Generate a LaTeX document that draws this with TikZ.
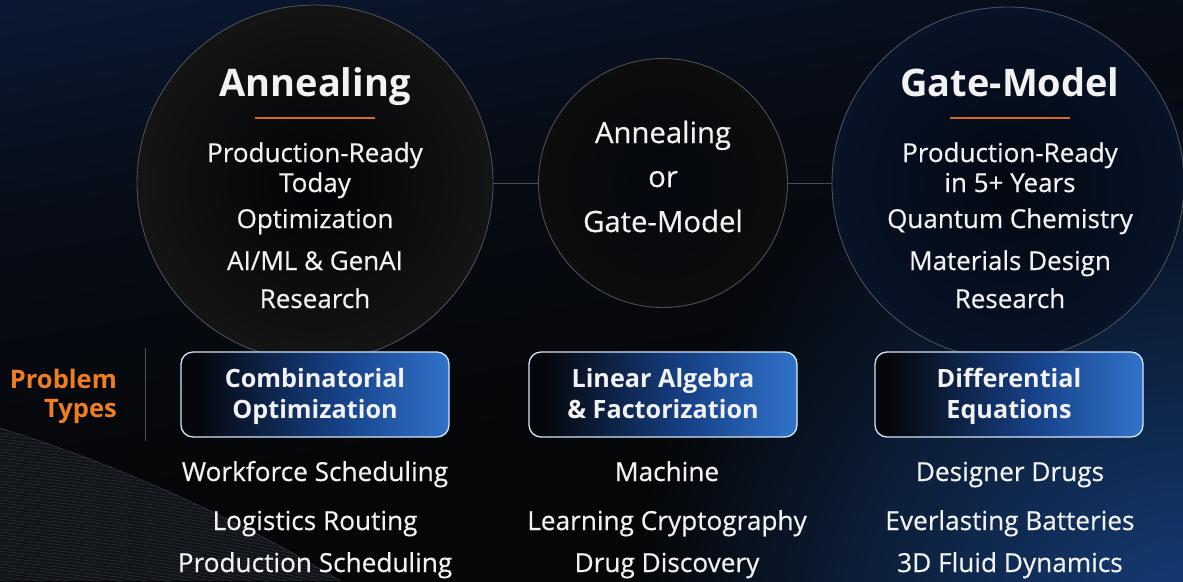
\documentclass[tikz,border=0pt]{standalone}
\usepackage{fontspec}
\setmainfont{Open Sans}
\newfontfamily\semifont{Open Sans}[FakeBold=0.45]
\usetikzlibrary{fadings}
\definecolor{bgL}{HTML}{050607}
\definecolor{bgM}{HTML}{070C16}
\definecolor{bgN}{HTML}{0B1D3D}
\definecolor{bgR}{HTML}{0D2C5C}
\definecolor{glowc}{HTML}{1C52A2}
\definecolor{ringc}{HTML}{4A5058}
\definecolor{orangeT}{HTML}{EF7D22}
\definecolor{orangeL}{HTML}{D8691E}
\definecolor{boxblue}{HTML}{3D8BEA}
\definecolor{boxmid}{HTML}{174289}
\definecolor{boxdark}{HTML}{05070C}
\definecolor{txt}{HTML}{F2F2F2}
\definecolor{meshc}{HTML}{101318}
\definecolor{meshl}{HTML}{2C3038}
\pgfdeclarehorizontalshading{bgshade}{100bp}{color(0bp)=(bgL); color(40bp)=(bgL); color(62bp)=(bgM); color(85bp)=(bgN); color(100bp)=(bgR)}
\pgfdeclarehorizontalshading{boxshade}{100bp}{color(0bp)=(boxdark); color(28bp)=(boxdark); color(55bp)=(boxmid); color(85bp)=(boxblue); color(100bp)=(boxblue)}
\tikzfading[name=glowfade, inner color=transparent!25, outer color=transparent!100]
\tikzset{
  bigcirc/.style={circle, draw=ringc, line width=0.9pt, inner sep=0pt},
  link/.style={draw=ringc, line width=0.9pt},
  ttl/.style={text=txt, font=\bfseries\fontsize{38}{40}\selectfont, anchor=base, inner sep=0pt},
  body/.style={text=txt, font=\semifont\fontsize{26}{28}\selectfont, anchor=base, inner sep=0pt},
  midtxt/.style={text=txt, font=\semifont\fontsize{29.3}{30}\selectfont, anchor=base, inner sep=0pt},
  ptype/.style={rounded corners=12pt, draw=white!78!boxblue, line width=1.3pt, shading=boxshade, minimum width=268pt, minimum height=85pt, inner sep=0pt},
  ptxt/.style={text=txt, font=\bfseries\fontsize{25.2}{30}\selectfont, anchor=base, inner sep=0pt},
  lbl/.style={text=orangeT, font=\bfseries\fontsize{25.5}{30}\selectfont, anchor=base east, inner sep=0pt},
  uline/.style={draw=orangeL, line width=1.8pt},
  item/.style={text=txt, font=\semifont\fontsize{26.2}{28}\selectfont, anchor=base, inner sep=0pt}
}
\begin{document}
\begin{tikzpicture}[x=1pt,y=-1pt]
\useasboundingbox (0,0) rectangle (1183,581);
% background
\shade[shading=bgshade, shading angle=100] (0,0) rectangle (1183,581);
\begin{scope}
\clip (0,0) rectangle (1183,581);
\fill[glowc, path fading=glowfade] (1183,640) circle (560);
\end{scope}
% mesh decoration bottom-left
\begin{scope}
\clip (0,428) .. controls (120,465) and (250,525) .. (340,581) -- (0,581) -- cycle;
\fill[meshc] (0,420) rectangle (340,581);
\foreach \i in {0,...,60} {
  \draw[meshl, line width=0.5pt] (0,{420+\i*3.2}) .. controls (120,{432+\i*3.2}) and (220,{445+\i*3.2}) .. (340,{470+\i*3.2});
}
\end{scope}
\draw[gray, line width=0.6pt, opacity=0.35] (0,428) .. controls (120,465) and (250,525) .. (340,581);
% circles
\node[bigcirc, minimum size=356pt, inner color=bgN!10!black, outer color=black!92!white] (cA) at (315,183) {};
\node[bigcirc, minimum size=249pt, inner color=bgN!25!black, outer color=black!95!white] (cM) at (663,183) {};
\node[bigcirc, minimum size=352pt, inner color=bgN!30!black, outer color=bgN!65!black] (cG) at (1008,183) {};
\draw[link] (cA.east) -- (cM.west);
\draw[link] (cM.east) -- (cG.west);
% left circle text
\node[ttl] (tA) at (315,96) {Annealing};
\coordinate (uA1) at (255,118); \coordinate (uA2) at (375,118);
\draw[uline] (uA1) -- (uA2);
\node[body] (a1) at (315,162) {Production-Ready};
\node[body] (a2) at (315,192) {Today};
\node[body] (a3) at (315,228) {Optimization};
\node[body] (a4) at (315,270) {AI/ML \& GenAI};
\node[body] (a5) at (315,308) {Research};
% middle circle text
\node[midtxt] (m1) at (663,143) {Annealing};
\node[midtxt] (m2) at (663,187) {or};
\node[midtxt] (m3) at (663,232) {Gate-Model};
% right circle text
\node[ttl] (tG) at (1010,96) {Gate-Model};
\coordinate (uG1) at (950,118); \coordinate (uG2) at (1070,118);
\draw[uline] (uG1) -- (uG2);
\node[body] (g1) at (1010,162) {Production-Ready};
\node[body] (g2) at (1010,192) {in 5+ Years};
\node[body] (g3) at (1010,228) {Quantum Chemistry};
\node[body] (g4) at (1010,270) {Materials Design};
\node[body] (g5) at (1010,308) {Research};
% problem types
\node[lbl] (pt1) at (117,388) {Problem};
\node[lbl] (pt2) at (117,417) {Types};
\coordinate (sep1) at (145,348); \coordinate (sep2) at (145,441);
\draw[ringc, line width=1pt] (sep1) -- (sep2);
\node[ptype] (b1) at (315,394.5) {};
\node[ptype] (b2) at (663,394.5) {};
\node[ptype] (b3) at (1009,394.5) {};
\node[ptxt] (b1a) at (315,387) {Combinatorial};
\node[ptxt] (b1b) at (315,418) {Optimization};
\node[ptxt] (b2a) at (663,387) {Linear Algebra};
\node[ptxt] (b2b) at (663,418) {\& Factorization};
\node[ptxt] (b3a) at (1009,387) {Differential};
\node[ptxt] (b3b) at (1009,418) {Equations};
% items
\node[item] (i11) at (315,481) {Workforce Scheduling};
\node[item] (i12) at (315,530) {Logistics Routing};
\node[item] (i13) at (315,572) {Production Scheduling};
\node[item] (i21) at (667,481) {Machine};
\node[item] (i22) at (667,530) {Learning Cryptography};
\node[item] (i23) at (667,572) {Drug Discovery};
\node[item] (i31) at (1010,481) {Designer Drugs};
\node[item] (i32) at (1010,530) {Everlasting Batteries};
\node[item] (i33) at (1010,572) {3D Fluid Dynamics};
\end{tikzpicture}
\end{document}
